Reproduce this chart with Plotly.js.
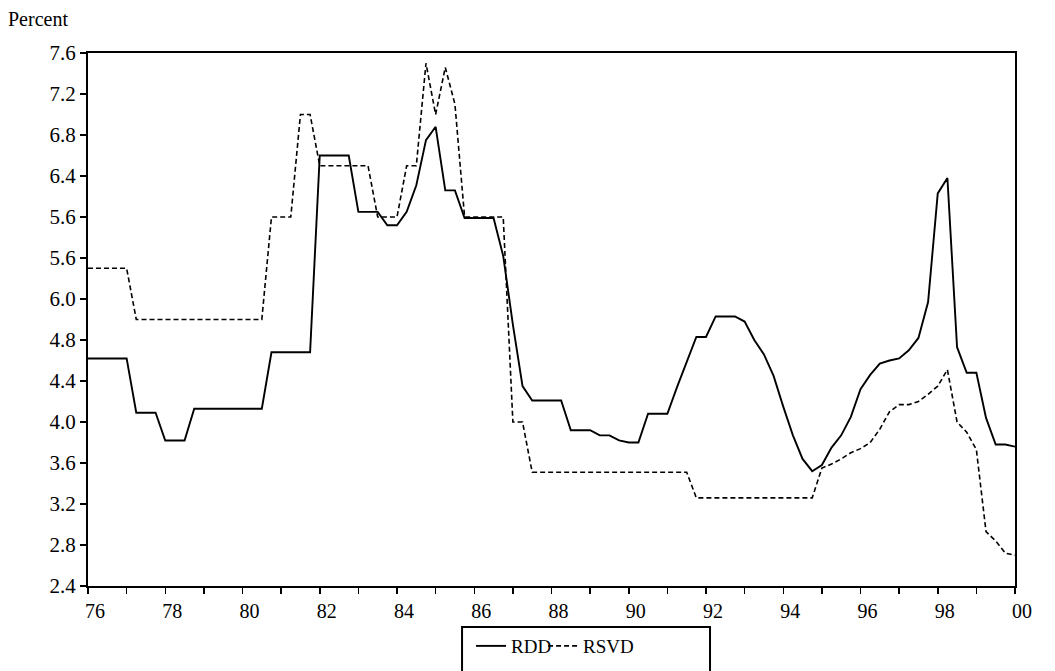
<!DOCTYPE html>
<html>
<head>
<meta charset="utf-8">
<script src="https://cdn.plot.ly/plotly-3.0.1.min.js"></script>
<style>html,body{margin:0;padding:0;background:#fff;}#chart{width:1055px;height:671px;}</style>
</head>
<body>
<div id="chart"></div>
<script>
// Quarterly observations, 1976Q1 .. 2000Q1
var startYear = 1976;
var rdd = [
  4.62, 4.62, 4.62, 4.62, 4.62,
  4.09, 4.09, 4.09,
  3.82, 3.82, 3.82,
  4.13, 4.13, 4.13, 4.13, 4.13, 4.13, 4.13, 4.13,
  4.68, 4.68, 4.68, 4.68, 4.68,
  6.60, 6.60, 6.60, 6.60,
  6.05, 6.05, 6.05,
  5.92, 5.92,
  6.05, 6.31, 6.75, 6.88, 6.26, 6.26,
  5.99, 5.99, 5.99, 5.99,
  5.62, 4.95, 4.35,
  4.21, 4.21, 4.21, 4.21,
  3.92, 3.92, 3.92,
  3.87, 3.87,
  3.82,
  3.80, 3.80,
  4.08, 4.08, 4.08,
  4.34, 4.59,
  4.83, 4.83,
  5.03, 5.03, 5.03,
  4.98, 4.80, 4.66, 4.45, 4.15, 3.87, 3.64, 3.52, 3.58, 3.75,
  3.87, 4.05, 4.32, 4.46, 4.57, 4.60, 4.62, 4.70, 4.82, 5.17,
  6.23, 6.38, 4.73, 4.48, 4.48, 4.04, 3.78, 3.78, 3.76
];
var rsvd = [
  5.50, 5.50, 5.50, 5.50, 5.50,
  5.00, 5.00, 5.00, 5.00, 5.00, 5.00, 5.00, 5.00, 5.00, 5.00, 5.00, 5.00, 5.00, 5.00,
  6.00, 6.00, 6.00,
  7.00, 7.00,
  6.50, 6.50, 6.50, 6.50, 6.50, 6.50,
  6.00, 6.00, 6.00,
  6.50, 6.50,
  7.50, 7.00, 7.46, 7.10,
  6.00, 6.00, 6.00, 6.00, 6.00,
  4.00, 4.00,
  3.51, 3.51, 3.51, 3.51, 3.51, 3.51, 3.51, 3.51, 3.51, 3.51, 3.51, 3.51, 3.51, 3.51, 3.51, 3.51, 3.51,
  3.26, 3.26, 3.26, 3.26, 3.26, 3.26, 3.26, 3.26, 3.26, 3.26, 3.26, 3.26, 3.26,
  3.55, 3.59, 3.64, 3.70, 3.74, 3.80, 3.93, 4.10, 4.17, 4.17,
  4.20, 4.27, 4.35, 4.51, 4.00, 3.90, 3.73, 2.93, 2.84, 2.72, 2.70
];
var xTickVals = [1976, 1977, 1978, 1979, 1980, 1981, 1982, 1983, 1984, 1985, 1986, 1987, 1988,
                 1989, 1990, 1991, 1992, 1993, 1994, 1995, 1996, 1997, 1998, 1999, 2000];
var xTickText = ['76', '', '78', '', '80', '', '82', '', '84', '', '86', '', '88',
                 '', '90', '', '92', '', '94', '', '96', '', '98', '', '00'];
var yTickVals = [2.4, 2.8, 3.2, 3.6, 4.0, 4.4, 4.8, 5.2, 5.6, 6.0, 6.4, 6.8, 7.2, 7.6];
var yTickText = ['2.4', '2.8', '3.2', '3.6', '4.0', '4.4', '4.8', '6.0', '5.6', '5.6', '6.4', '6.8', '7.2', '7.6'];

var periods = rdd.map(function (v, i) { return startYear + i / 4; });

var serif = '"Liberation Serif", "Times New Roman", Times, serif';
var legendFont = {family: serif, size: 19, color: '#000'};
var traces = [
  {x: periods, y: rdd, name: 'RDD', type: 'scatter', mode: 'lines', legend: 'legend',
   line: {color: '#000', width: 1.9}},
  {x: periods, y: rsvd, name: 'RSVD', type: 'scatter', mode: 'lines', legend: 'legend2',
   line: {color: '#000', width: 1.6, dash: '5px,3px'}}
];
var layout = {
  width: 1055, height: 671,
  margin: {l: 88, r: 40, t: 53, b: 85, autoexpand: false},
  paper_bgcolor: '#fff', plot_bgcolor: '#fff',
  font: {family: serif, size: 20, color: '#000'},
  showlegend: true,
  legend: {orientation: 'h', x: 0.4132, y: -0.077, xanchor: 'left', yanchor: 'top',
           borderwidth: 0, bgcolor: 'rgba(0,0,0,0)', font: legendFont, itemwidth: 30},
  legend2: {orientation: 'h', x: 0.4909, y: -0.077, xanchor: 'left', yanchor: 'top',
           borderwidth: 0, bgcolor: 'rgba(0,0,0,0)', font: legendFont, itemwidth: 30},
  xaxis: {range: [1976, 2000], tickmode: 'array', tickvals: xTickVals, ticktext: xTickText,
          ticks: 'outside', ticklen: 6, tickwidth: 1.5, tickcolor: '#000',
          showline: true, linecolor: '#000', linewidth: 2, mirror: true,
          showgrid: false, zeroline: false, ticklabelshift: 7,
          tickfont: {family: serif, size: 20, color: '#000'}},
  yaxis: {range: [2.4, 7.6], tickmode: 'array', tickvals: yTickVals, ticktext: yTickText,
          ticks: 'outside', ticklen: 6, tickwidth: 1.5, tickcolor: '#000',
          showline: true, linecolor: '#000', linewidth: 2, mirror: true,
          showgrid: false, zeroline: false,
          tickfont: {family: serif, size: 21, color: '#000'}},
  shapes: [{type: 'rect', xref: 'paper', yref: 'paper',
            x0: 0.4035, x1: 0.671, y0: -0.0769, y1: -0.18,
            line: {color: '#000', width: 2}, fillcolor: 'rgba(0,0,0,0)'}],
  annotations: [{text: 'Percent', xref: 'paper', yref: 'paper', x: -0.0885, y: 1.064,
                 xanchor: 'left', yanchor: 'middle', showarrow: false,
                 font: {family: serif, size: 20, color: '#000'}}]
};
Plotly.newPlot('chart', traces, layout, {displayModeBar: false, staticPlot: true});
</script>
</body>
</html>
